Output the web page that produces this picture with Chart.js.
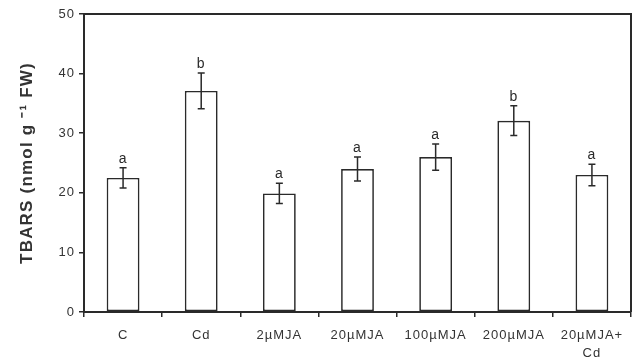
<!DOCTYPE html>
<html>
<head>
<meta charset="utf-8">
<script src="https://cdn.jsdelivr.net/npm/chart.js@4/dist/chart.umd.min.js"></script>
<style>
  html, body { margin: 0; padding: 0; background: #fff; }
  canvas { display: block; }
</style>
</head>
<body>
<canvas id="tbarsChart" width="634" height="364"></canvas>
<script>
const categories = ['C', 'Cd', '2µMJA', '20µMJA', '100µMJA', '200µMJA', ['20µMJA+', 'Cd']];
const tbars = [22.5, 37.1, 19.9, 24.0, 26.0, 32.1, 23.0];
const errors = [1.7, 3.0, 1.7, 2.0, 2.2, 2.5, 1.8];
const letters = ['a', 'b', 'a', 'a', 'a', 'b', 'a'];
const yTicks = [0, 10, 20, 30, 40, 50];
const yTitle = 'TBARS (nmol g ⁻¹ FW)';

const ink = '#2a2a2a';
const font = '"Liberation Sans", Arial, sans-serif';

// error bars, significance letters, y title and the top/right frame
const extras = {
    id: 'extras',
    beforeDraw(chart) {
        chart.ctx.letterSpacing = '1px';
    },
    afterDatasetsDraw(chart) {
        const ctx = chart.ctx;
        const y = chart.scales.y;
        const area = chart.chartArea;
        const meta = chart.getDatasetMeta(0);
        ctx.save();
        ctx.strokeStyle = ink;
        ctx.lineWidth = 1.5;
        meta.data.forEach((bar, i) => {
            const hi = y.getPixelForValue(tbars[i] + errors[i]);
            const lo = y.getPixelForValue(tbars[i] - errors[i]);
            ctx.beginPath();
            ctx.moveTo(bar.x, hi); ctx.lineTo(bar.x, lo);
            ctx.moveTo(bar.x - 3.5, hi); ctx.lineTo(bar.x + 3.5, hi);
            ctx.moveTo(bar.x - 3.5, lo); ctx.lineTo(bar.x + 3.5, lo);
            ctx.stroke();
            ctx.fillStyle = ink;
            ctx.font = '14px ' + font;
            ctx.textAlign = 'center';
            ctx.textBaseline = 'alphabetic';
            ctx.fillText(letters[i], bar.x, hi - 5);
        });
        ctx.lineWidth = 2;
        ctx.beginPath();
        ctx.moveTo(area.left, area.top);
        ctx.lineTo(area.right, area.top);
        ctx.lineTo(area.right, area.bottom);
        ctx.stroke();

        ctx.translate(27, (area.top + area.bottom) / 2);
        ctx.rotate(-Math.PI / 2);
        ctx.fillStyle = '#333';
        ctx.font = 'bold 17px ' + font;
        ctx.letterSpacing = '1.2px';
        ctx.textBaseline = 'middle';
        ctx.fillText(yTitle, 0, 0);
        ctx.restore();
    }
};

new Chart(document.getElementById('tbarsChart'), {
    type: 'bar',
    data: {
        labels: categories,
        datasets: [{
            data: tbars,
            backgroundColor: '#ffffff',
            borderColor: ink,
            borderWidth: 1.7,
            borderSkipped: false,
            categoryPercentage: 1,
            barPercentage: 0.42
        }]
    },
    options: {
        responsive: false,
        animation: false,
        layout: { padding: { top: 14, right: 3, left: 0, bottom: 0 } },
        plugins: {
            legend: { display: false },
            tooltip: { enabled: false }
        },
        scales: {
            x: {
                grid: {
                    offset: true,
                    drawOnChartArea: false,
                    drawTicks: true,
                    tickLength: 5,
                    color: ink,
                    lineWidth: 1.5
                },
                border: { display: true, color: ink, width: 2 },
                ticks: {
                    color: '#333',
                    padding: 9,
                    maxRotation: 0,
                    autoSkip: false,
                    font: { family: font, size: 13, lineHeight: 1.4 }
                },
                afterFit: (scale) => { scale.height = 52; }
            },
            y: {
                min: 0,
                max: 50,
                afterBuildTicks: (scale) => { scale.ticks = yTicks.map(v => ({ value: v })); },
                grid: {
                    drawOnChartArea: false,
                    drawTicks: true,
                    tickLength: 5,
                    color: ink,
                    lineWidth: 1.5
                },
                border: { display: true, color: ink, width: 2 },
                ticks: {
                    color: '#333',
                    padding: 4,
                    font: { family: font, size: 13 }
                },
                afterFit: (scale) => { scale.width = 84; }
            }
        }
    },
    plugins: [extras]
});
</script>
</body>
</html>
